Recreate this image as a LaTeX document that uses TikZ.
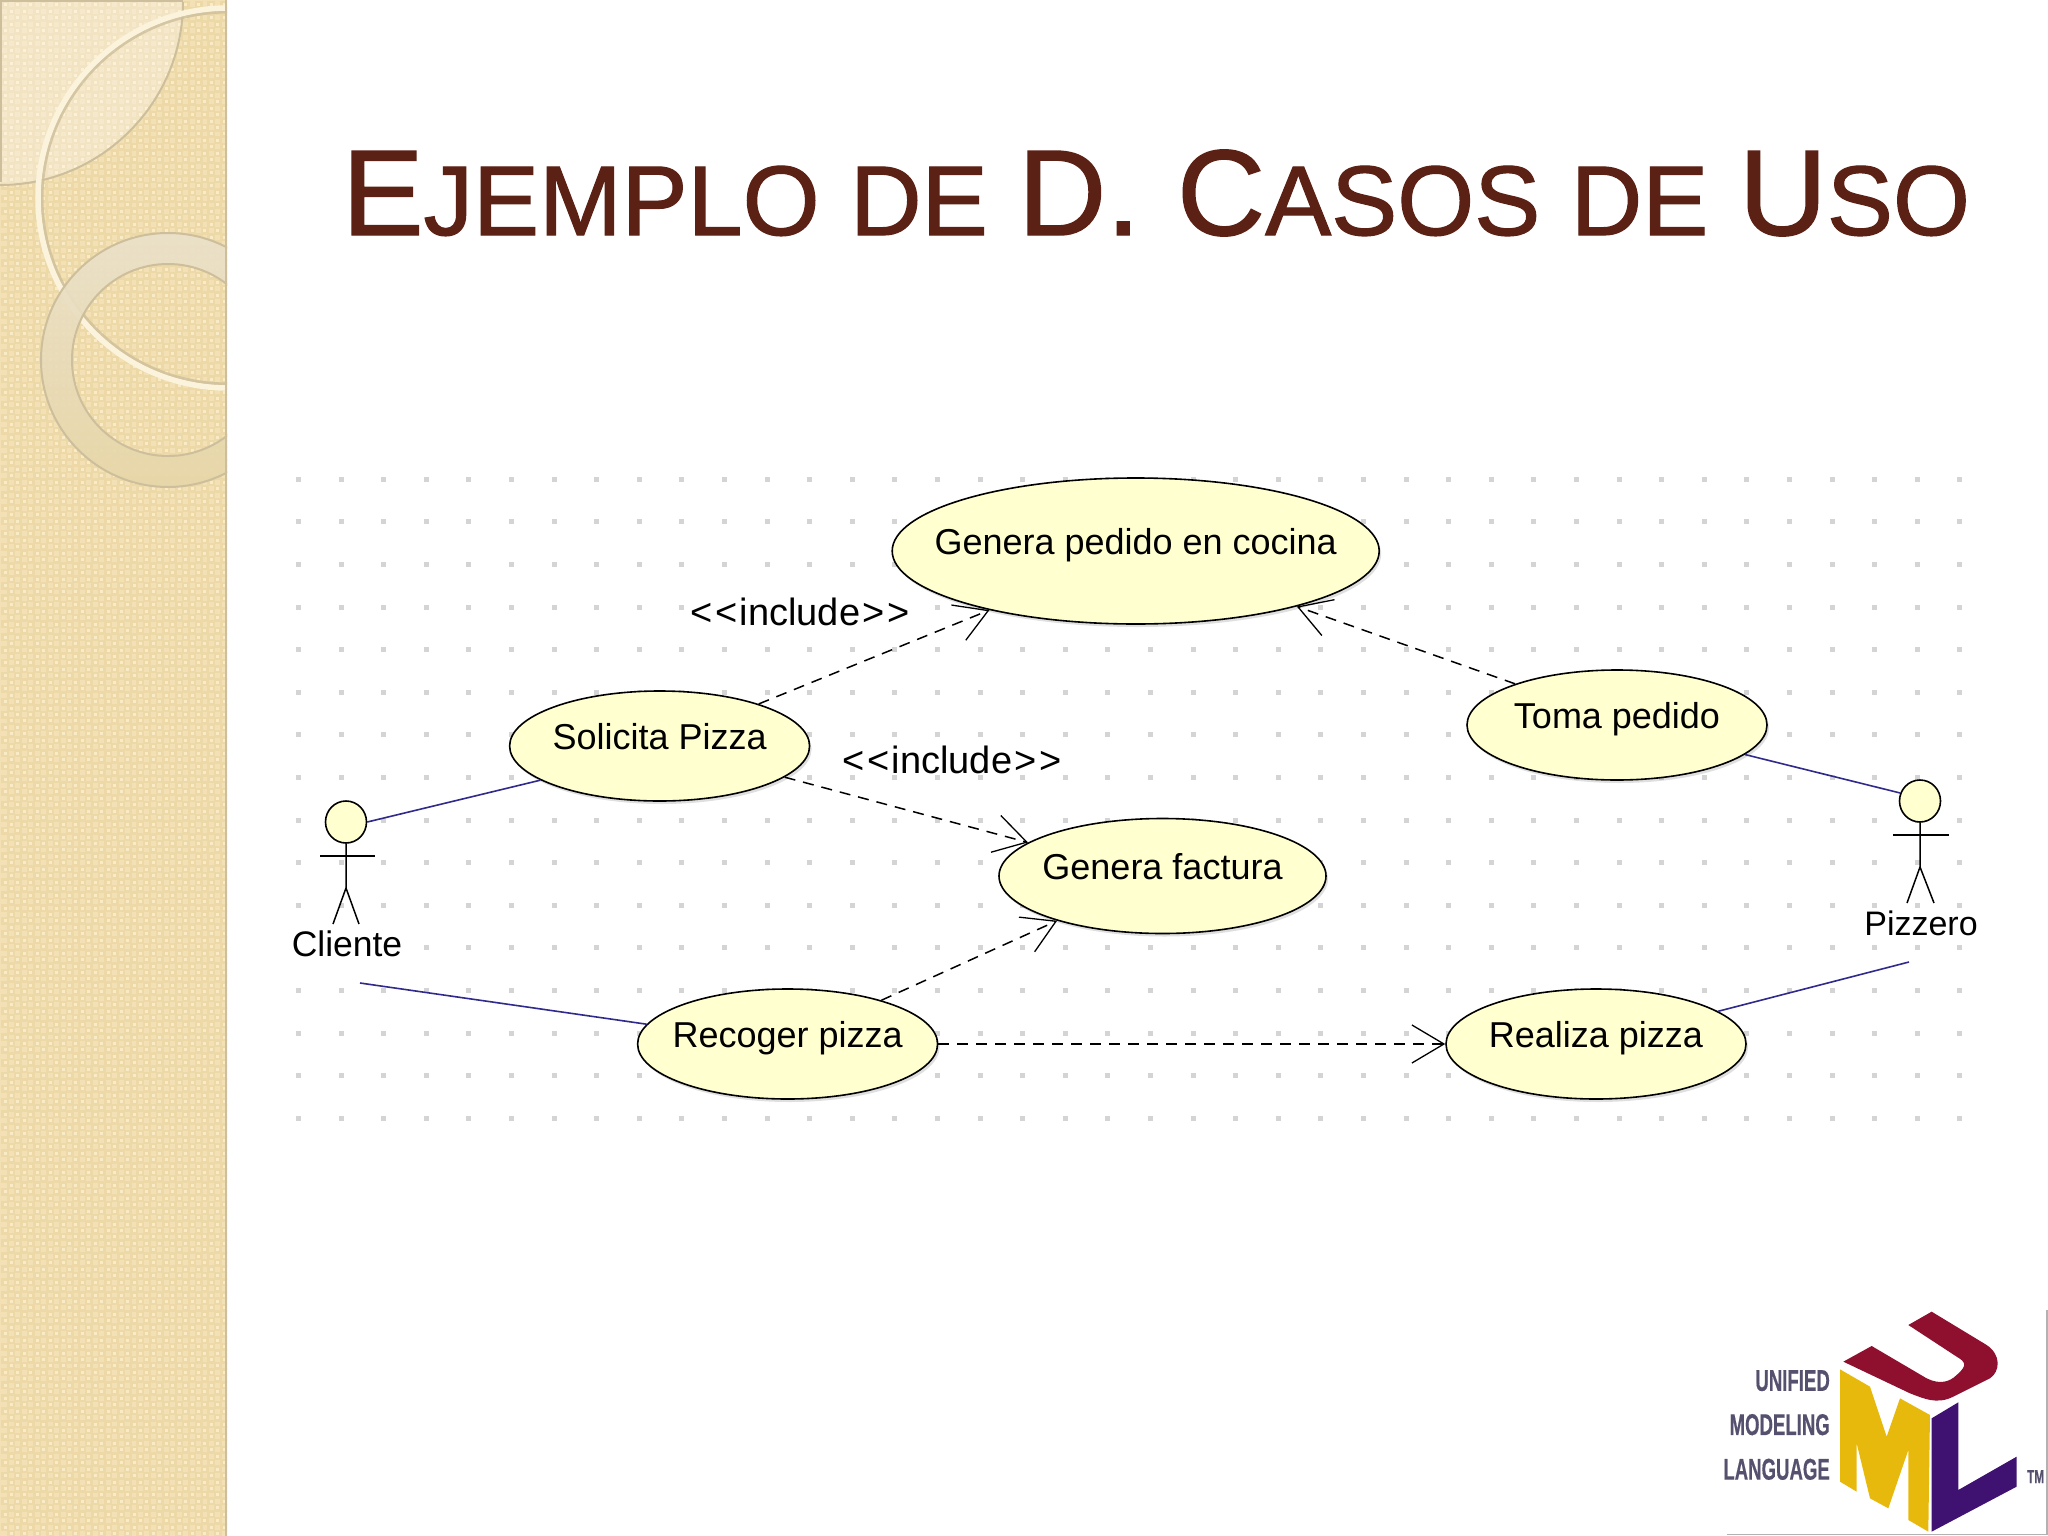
\documentclass[tikz,border=0pt]{standalone}
\usepackage{fontspec}
\setmainfont{Liberation Sans}
\newfontfamily\titlefont[FakeBold=1.2]{Liberation Sans}
\newfontfamily\logofont[FakeStretch=0.62,FakeBold=0.4]{Liberation Sans Bold}
\usetikzlibrary{arrows.meta,shapes.geometric,shadows}
\definecolor{panel}{HTML}{F3E0B5}
\definecolor{panelB}{HTML}{EDD9A8}
\definecolor{panelC}{HTML}{F9EBC6}
\definecolor{panelD}{HTML}{F6E6BE}
\definecolor{titlec}{HTML}{5C2115}
\definecolor{usefill}{HTML}{FFFFD0}
\definecolor{assoc}{HTML}{2F2A8C}
\definecolor{griddot}{HTML}{D4D4D4}
\definecolor{ringline}{HTML}{CDBF9B}
\definecolor{ringtop}{HTML}{EAE1CA}
\definecolor{ringbot}{HTML}{E7D6A8}
\definecolor{cream}{HTML}{FBF3DC}
\definecolor{logotxt}{HTML}{55506E}
\definecolor{logoU}{HTML}{8F0F2E}
\definecolor{logoM}{HTML}{E8B90D}
\definecolor{logoL}{HTML}{3F1170}
\tikzset{
 usecase/.style={ellipse,draw=black,line width=1.6pt,fill=usefill,inner sep=0pt,
   font=\fontsize{36}{36}\selectfont,drop shadow={shadow xshift=2pt,shadow yshift=-3pt,opacity=.25}},
 actorlabel/.style={fill=white,inner sep=1pt,font=\fontsize{35.5}{36}\selectfont},
 stereo/.style={fill=white,inner sep=1pt,font=\fontsize{38}{38}\selectfont},
 assocline/.style={draw=assoc,line width=1.6pt},
 dep/.style={draw=black,line width=1.5pt,dash pattern=on 11pt off 8pt,
   -{Straight Barb[length=32pt,width=38pt,line width=1.3pt]}},
 stick/.style={draw=black,line width=1.5pt},
 head/.style={ellipse,draw=black,line width=1.6pt,fill=usefill,inner sep=0pt,minimum width=41pt,minimum height=42pt},
 logot/.style={anchor=east,text=logotxt,inner sep=0pt,font=\logofont\fontsize{30}{30}\selectfont}
}
\newcommand{\lifted}[1]{\raisebox{-3pt}[0pt][0pt]{\makebox[0pt]{#1}}}
\newcommand{\cp}[2]{{\fontsize{#1}{#1}\selectfont #2}}
\newcommand{\bigc}[1]{\cp{122}{#1}}
\newcommand{\smc}[1]{\cp{99}{#1}}
\newcommand{\wsp}{\hspace{3pt}}
\newcommand{\incl}{<\hspace{3pt}<\hspace{2pt}include\hspace{2pt}>\hspace{3pt}>}
\begin{document}
\begin{tikzpicture}[x=1pt,y=-1pt]
\useasboundingbox (0,0) rectangle (2048,1536);
\fill[white] (0,0) rectangle (2048,1536);
% left panel
\begin{scope}
\clip (0,0) rectangle (227,1536);
\fill[panel] (0,0) rectangle (227,1536);
\foreach \i in {0,...,35}{
 \foreach \j in {0,...,237}{
  \pgfmathparse{int(mod(\i+\j,2))}
  \ifnum\pgfmathresult=0
   \fill[panelB] ({\i*6.45+1},{\j*6.45+1}) rectangle +(8,8);
   \fill[panelC] ({\i*6.45+3.5},{\j*6.45+3.5}) rectangle +(3,3);
  \fi
 }
}
\fill[white,opacity=.3] (0,2) -- (183,2) arc[start angle=0,end angle=90,radius=183] -- cycle;
\draw[ringline,line width=2pt] (1,182) -- (1,1) -- (183,1);
\draw[ringline,line width=2pt] (183,2) arc[start angle=0,end angle=90,radius=183];
\draw[ringline,line width=3pt,opacity=.8] (228,198) circle[radius=186];
\draw[cream,line width=5.5pt] (228,198) circle[radius=190];
\shade[even odd rule,top color=ringtop,bottom color=ringbot,opacity=.92] (168,360) circle[radius=127] (168,360) circle[radius=96];
\draw[ringline,line width=2pt] (168,360) circle[radius=127] (168,360) circle[radius=96];
\fill[ringline] (224.5,0) rectangle (227,1536);
\end{scope}
% title
\node[anchor=base west,inner sep=0pt,text=titlec,font=\titlefont] (title) at (342,235)
 {\bigc{E}\smc{JEMPLO\wsp{} DE\wsp{} }\bigc{D.\wsp{} C}\smc{ASOS\wsp{} DE\wsp{} }\bigc{U}\smc{SO}};
% dot grid
\foreach \i in {0,...,39}{
 \foreach \j in {0,...,15}{
  \fill[griddot] ({298.4+\i*42.6-2.5},{479.3+\j*42.6-2.5}) rectangle +(5,5);
 }
}
% labels with white ground
\node[stereo] (incA) at (800,612) {\incl};
\node[stereo] (incB) at (952,760) {\incl};
% use cases
\node[usecase,minimum width=487pt,minimum height=146pt] (pedido) at (1135.7,551) {\lifted{Genera pedido en cocina}};
\node[usecase,minimum width=300pt,minimum height=110pt] (solicita) at (659.6,746) {\lifted{Solicita Pizza}};
\node[usecase,minimum width=300pt,minimum height=110pt] (toma) at (1617,725) {\lifted{Toma pedido}};
\node[usecase,minimum width=327pt,minimum height=115pt] (factura) at (1162.5,876) {\lifted{Genera factura}};
\node[usecase,minimum width=300pt,minimum height=110pt] (recoger) at (787.6,1044) {\lifted{Recoger pizza}};
\node[usecase,minimum width=300pt,minimum height=110pt] (realiza) at (1596,1044) {\lifted{Realiza pizza}};
% actors
\node[head] (clienteH) at (346,822) {};
\coordinate (clienteHip) at (346,888);
\coordinate (clienteL) at (333,924);
\coordinate (clienteR) at (359,924);
\coordinate (clienteAL) at (320,856);
\coordinate (clienteAR) at (375,856);
\draw[stick] (clienteH.south) -- (clienteHip) -- (clienteL);
\draw[stick] (clienteHip) -- (clienteR);
\draw[stick] (clienteAL) -- (clienteAR);
\node[head] (pizzeroH) at (1920,801) {};
\coordinate (pizzeroHip) at (1920,867);
\coordinate (pizzeroL) at (1907,903);
\coordinate (pizzeroR) at (1934,903);
\coordinate (pizzeroAL) at (1893,835);
\coordinate (pizzeroAR) at (1949,835);
\draw[stick] (pizzeroH.south) -- (pizzeroHip) -- (pizzeroL);
\draw[stick] (pizzeroHip) -- (pizzeroR);
\draw[stick] (pizzeroAL) -- (pizzeroAR);
\node[actorlabel] (cliente) at (347,944) {Cliente};
\node[actorlabel,font=\fontsize{34}{34}\selectfont] (pizzero) at (1921,923) {Pizzero};
% free ends under the actor labels
\coordinate (clienteFoot) at (360,983);
\coordinate (pizzeroFoot) at (1909,962);
% associations
\draw[assocline] (clienteH.0) -- (solicita.-164);
\draw[assocline] (clienteFoot) -- (recoger.172);
\draw[assocline] (pizzeroH.158) -- (toma.-13);
\draw[assocline] (pizzeroFoot) -- (realiza.15);
% dependencies
\draw[dep] (solicita.23) -- (pedido.-158.6);
\draw[dep] (solicita.-14) -- (factura.166);
\draw[dep] (toma.158) -- (pedido.-19.6);
\draw[dep] (recoger.25.6) -- (factura.-157.6);
\draw[dep] (recoger.east) -- (realiza.west);
% logo
\begin{scope}[shift={(1700,1290)},x=0.3333pt,y=-0.3333pt]
\fill[white] (80,60) rectangle (1044,733);
\draw[gray!60,line width=1.5pt] (80,733) -- (1041,733) -- (1041,60);
\fill[logoU] (430,215) -- (515,168) -- (680,265) .. controls (720,285) and (750,275) .. (770,255) .. controls (805,225) and (795,215) .. (770,200) -- (625,105) -- (695,65) -- (860,165) .. controls (905,195) and (900,245) .. (870,265) -- (760,320) .. controls (710,345) and (670,325) .. (630,310) -- cycle;
\fill[logoM] (420,238) -- (510,290) -- (560,440) -- (600,325) -- (690,375) -- (685,725) -- (625,690) -- (625,480) -- (565,655) -- (510,625) -- (470,460) -- (470,605) -- (420,575) -- cycle;
\fill[logoL] (695,385) -- (775,337) -- (775,600) -- (950,500) -- (950,590) -- (695,725) -- cycle;
\node[logot] (lu) at (390,272) {UNIFIED};
\node[logot] (lm) at (390,404) {MODELING};
\node[logot] (ll) at (390,538) {LANGUAGE};
\node[logot,font=\logofont\fontsize{19}{19}\selectfont] (tm) at (1033,560) {TM};
\end{scope}
\end{tikzpicture}
\end{document}
